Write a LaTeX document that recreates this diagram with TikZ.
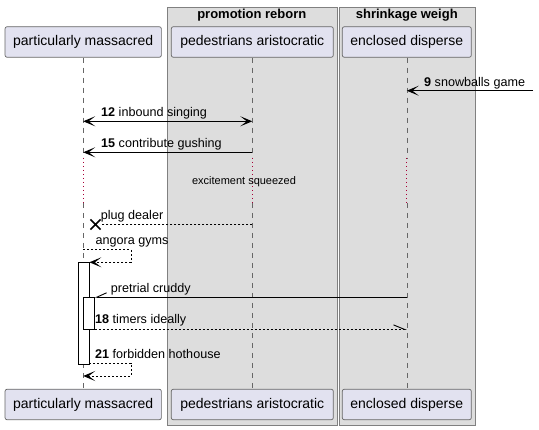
\documentclass[tikz,border=0pt]{standalone}
\usepackage{fontspec}
\setmainfont{Liberation Sans}
\usetikzlibrary{arrows.meta,shapes.misc}
\definecolor{partfill}{HTML}{E2E2F0}
\definecolor{grpfill}{HTML}{DDDDDD}
\definecolor{delayred}{HTML}{A80036}

\begin{document}
\begin{tikzpicture}[x=1pt,y=-1pt,
    part/.style={draw=black!60, line width=0.7pt, fill=partfill, rounded corners=2pt, minimum height=30.5pt, inner xsep=7pt, font=\fontsize{14}{16}\selectfont},
    grp/.style={draw=black!50, line width=0.9pt, fill=grpfill, inner sep=0pt},
    gtitle/.style={anchor=base, inner sep=0pt, font=\fontsize{13}{15}\selectfont\bfseries},
    life/.style={draw=black!60, line width=0.6pt, dash pattern=on 5pt off 5pt},
    delay/.style={draw=delayred, line width=0.9pt, dash pattern=on 1pt off 3pt},
    act/.style={draw, line width=0.8pt, fill=white, inner sep=0pt, minimum width=10.4pt, anchor=north west},
    msg/.style={line width=0.9pt, -{Stealth[length=12pt,width=10pt,inset=6.5pt,line width=1.1pt]}},
    reply/.style={msg, dash pattern=on 2pt off 2pt},
    lbl/.style={anchor=base west, inner sep=0pt, font=\fontsize{12.6}{15}\selectfont},
    note/.style={anchor=base, inner sep=0pt, font=\fontsize{11}{13}\selectfont}]
    \useasboundingbox (0,0) rectangle (539,430);

    \node[grp, anchor=north west, minimum width=169.7pt, minimum height=418.6pt] (g1) at (167,6.7) {};
    \node[grp, anchor=north west, minimum width=136.3pt, minimum height=418.6pt] (g2) at (338.7,6.7) {};
    \node[gtitle] at (251.8,18.5) {promotion reborn};
    \node[gtitle] at (406.8,18.5) {shrinkage weigh};

    \node[part, minimum width=156.3pt] (pm) at (83.2,42) {particularly massacred};
    \node[part, minimum width=162pt] (pa) at (252.3,42) {pedestrians aristocratic};
    \node[part, minimum width=129pt] (ed) at (406.8,42) {enclosed disperse};
    \node[part, minimum width=156.3pt] (pmB) at (83.2,404.5) {particularly massacred};
    \node[part, minimum width=162pt] (paB) at (252.3,404.5) {pedestrians aristocratic};
    \node[part, minimum width=129pt] (edB) at (406.8,404.5) {enclosed disperse};

    \coordinate (d1) at (0,158);
    \coordinate (d2) at (0,203);
    \draw[life] (pm.south) -- (pm |- d1);
    \draw[delay] (pm |- d1) -- (pm |- d2);
    \draw[life] (pm |- d2) -- (pmB.north);
    \draw[life] (pa.south) -- (pa |- d1);
    \draw[delay] (pa |- d1) -- (pa |- d2);
    \draw[life] (pa |- d2) -- (paB.north);
    \draw[life] (ed.south) -- (ed |- d1);
    \draw[delay] (ed |- d1) -- (ed |- d2);
    \draw[life] (ed |- d2) -- (edB.north);

    \node[act, minimum height=102pt] (a1) at (78.2,262.3) {};
    \node[act, minimum height=31.3pt] (a2) at (83.3,297.3) {};

    \coordinate (m9) at (533,90.7);
    \draw[msg] (m9) -- (ed |- m9);
    \node[lbl] at (424,86.3) {\textbf{9} snowballs game};

    \coordinate (m12) at (0,121.3);
    \draw[msg, {Stealth[length=12pt,width=10pt,inset=6.5pt,line width=1.1pt]}-{Stealth[length=12pt,width=10pt,inset=6.5pt,line width=1.1pt]}] (pm |- m12) -- (pa |- m12);
    \node[lbl] at (101,116.8) {\textbf{12} inbound singing};

    \coordinate (m15) at (0,152.3);
    \draw[msg] (pa |- m15) -- (pm |- m15);
    \node[lbl] at (101,147.8) {\textbf{15} contribute gushing};

    \node[note] at (244,185) {excitement squeezed};

    \node[cross out, draw, line width=1.6pt, minimum size=8.5pt, inner sep=0pt] (x1) at (95.5,224.5) {};
    \draw[reply, -] (pa |- x1) -- (x1);
    \node[lbl] at (100.7,219.8) {plug dealer};

    \coordinate (s1) at (131,249.7);
    \draw[reply] (pm |- s1) -- (s1) |- (a1.north east);
    \node[lbl] at (95.5,245) {angora gyms};

    \draw[line width=0.9pt, -{Straight Barb[right,length=10pt,width=9pt]}] (ed |- a2.north) -- (a2.north east);
    \node[lbl] at (110.7,292.5) {pretrial cruddy};

    \draw[reply, -{Straight Barb[left,length=11pt,width=9pt]}] (a2.south east) -- (ed |- a2.south);
    \node[lbl] at (95,323.8) {\textbf{18} timers ideally};

    \coordinate (s2) at (131,363);
    \coordinate (s3) at (131,376);
    \draw[reply] (a1.east |- s2) -- (s2) -- (s3) -- (pm |- s3);
    \node[lbl] at (95,358.5) {\textbf{21} forbidden hothouse};
\end{tikzpicture}
\end{document}
